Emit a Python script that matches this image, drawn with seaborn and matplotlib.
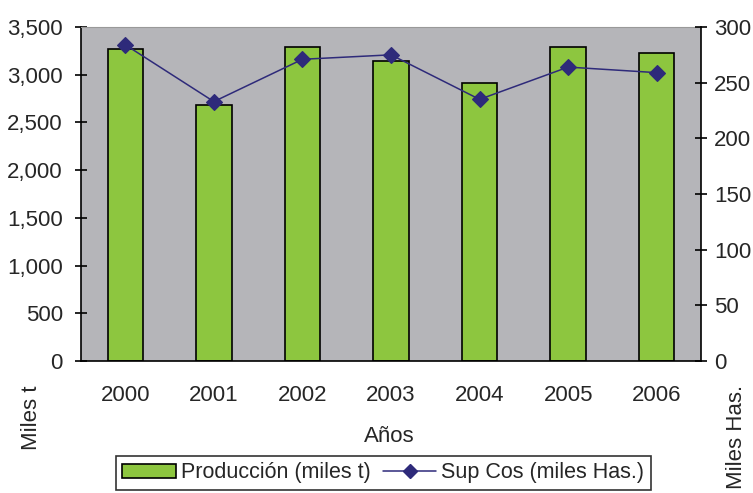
import matplotlib
matplotlib.use("Agg")
import matplotlib.pyplot as plt
import seaborn as sns
from matplotlib.patches import Patch
from matplotlib.lines import Line2D
from matplotlib.ticker import FuncFormatter, FixedLocator

years = ["2000", "2001", "2002", "2003", "2004", "2005", "2006"]
produccion = [3270, 2680, 3290, 3140, 2910, 3290, 3230]
sup_cos = [284, 233, 271, 275, 235, 264, 259]

sns.set_style("white")
plt.rcParams["font.family"] = ["Liberation Sans", "DejaVu Sans"]
FS = 16
plt.rcParams["font.size"] = FS

fig = plt.figure(figsize=(7.53, 4.93), dpi=100)
ax = fig.add_axes([81/753, 1-361/493, 620/753, 334/493])
ax.set_facecolor("#B5B5B9")

sns.barplot(x=years, y=produccion, ax=ax, color="#8DC63F", edgecolor="black",
            linewidth=1.2, width=0.4, saturation=1)
ax.set_ylim(0, 3500)
ax.set_xlim(-0.5, 6.5)
ax.set_yticks(range(0, 3501, 500))
ax.yaxis.set_major_formatter(FuncFormatter(lambda v, p: f"{int(v):,}"))
ax.xaxis.set_major_locator(FixedLocator([i + 0.5 for i in range(-1, 7)]))
ax.xaxis.set_minor_locator(FixedLocator(range(7)))
ax.set_xticklabels([""] * 8)
ax.set_xticklabels(years, minor=True)
ax.tick_params(axis="x", which="major", direction="out", length=7, width=1.2, color="black")
ax.tick_params(axis="x", which="minor", length=0, pad=17, labelsize=FS)
ax.tick_params(axis="y", direction="inout", length=9, width=1.2, color="black", pad=8.5, labelsize=FS)
ax.set_xlabel("")
ax.set_ylabel("")
for s in ["left", "bottom"]:
    ax.spines[s].set_color("black")
    ax.spines[s].set_linewidth(1.2)
ax.spines["top"].set_color("#999999")
ax.spines["right"].set_visible(False)

ax2 = ax.twinx()
sns.pointplot(x=years, y=sup_cos, ax=ax2, color="#2E2A7A", markers="D",
              markersize=8, linewidth=1.1)
ax2.set_ylim(0, 300)
ax2.set_xlim(-0.5, 6.5)
ax2.set_yticks(range(0, 301, 50))
ax2.tick_params(axis="y", direction="inout", length=9, width=1.2, color="black", pad=5, labelsize=FS)
ax2.set_ylabel("")
for s in ["left", "top", "bottom"]:
    ax2.spines[s].set_visible(False)
ax2.spines["right"].set_color("black")
ax2.spines["right"].set_linewidth(1.2)

fig.text(389/753, 1-437/493, "Años", ha="center", va="center", fontsize=FS)
fig.text(32/753, 1-418/493, "Miles t", ha="center", va="center", rotation=90, fontsize=FS)
fig.text(736/753, 1-437/493, "Miles Has.", ha="center", va="center", rotation=90, fontsize=FS)

LFS = 15.5
handles = [Patch(facecolor="#8DC63F", edgecolor="black", linewidth=1.2),
           Line2D([0], [0], color="#2E2A7A", marker="D", markersize=7.5, linewidth=1.1)]
leg = fig.legend(handles, ["Producción (miles t)", "Sup Cos (miles Has.)"],
                 loc="upper left", bbox_to_anchor=(116/753, 1-456/493), ncol=2,
                 frameon=True, fancybox=False, edgecolor="black", fontsize=LFS,
                 handlelength=2.5, handleheight=0.6, handletextpad=0.22, columnspacing=0.55,
                 borderpad=0.3, borderaxespad=0)
leg.get_frame().set_linewidth(1.2)

fig.savefig("out.png", dpi=100)
